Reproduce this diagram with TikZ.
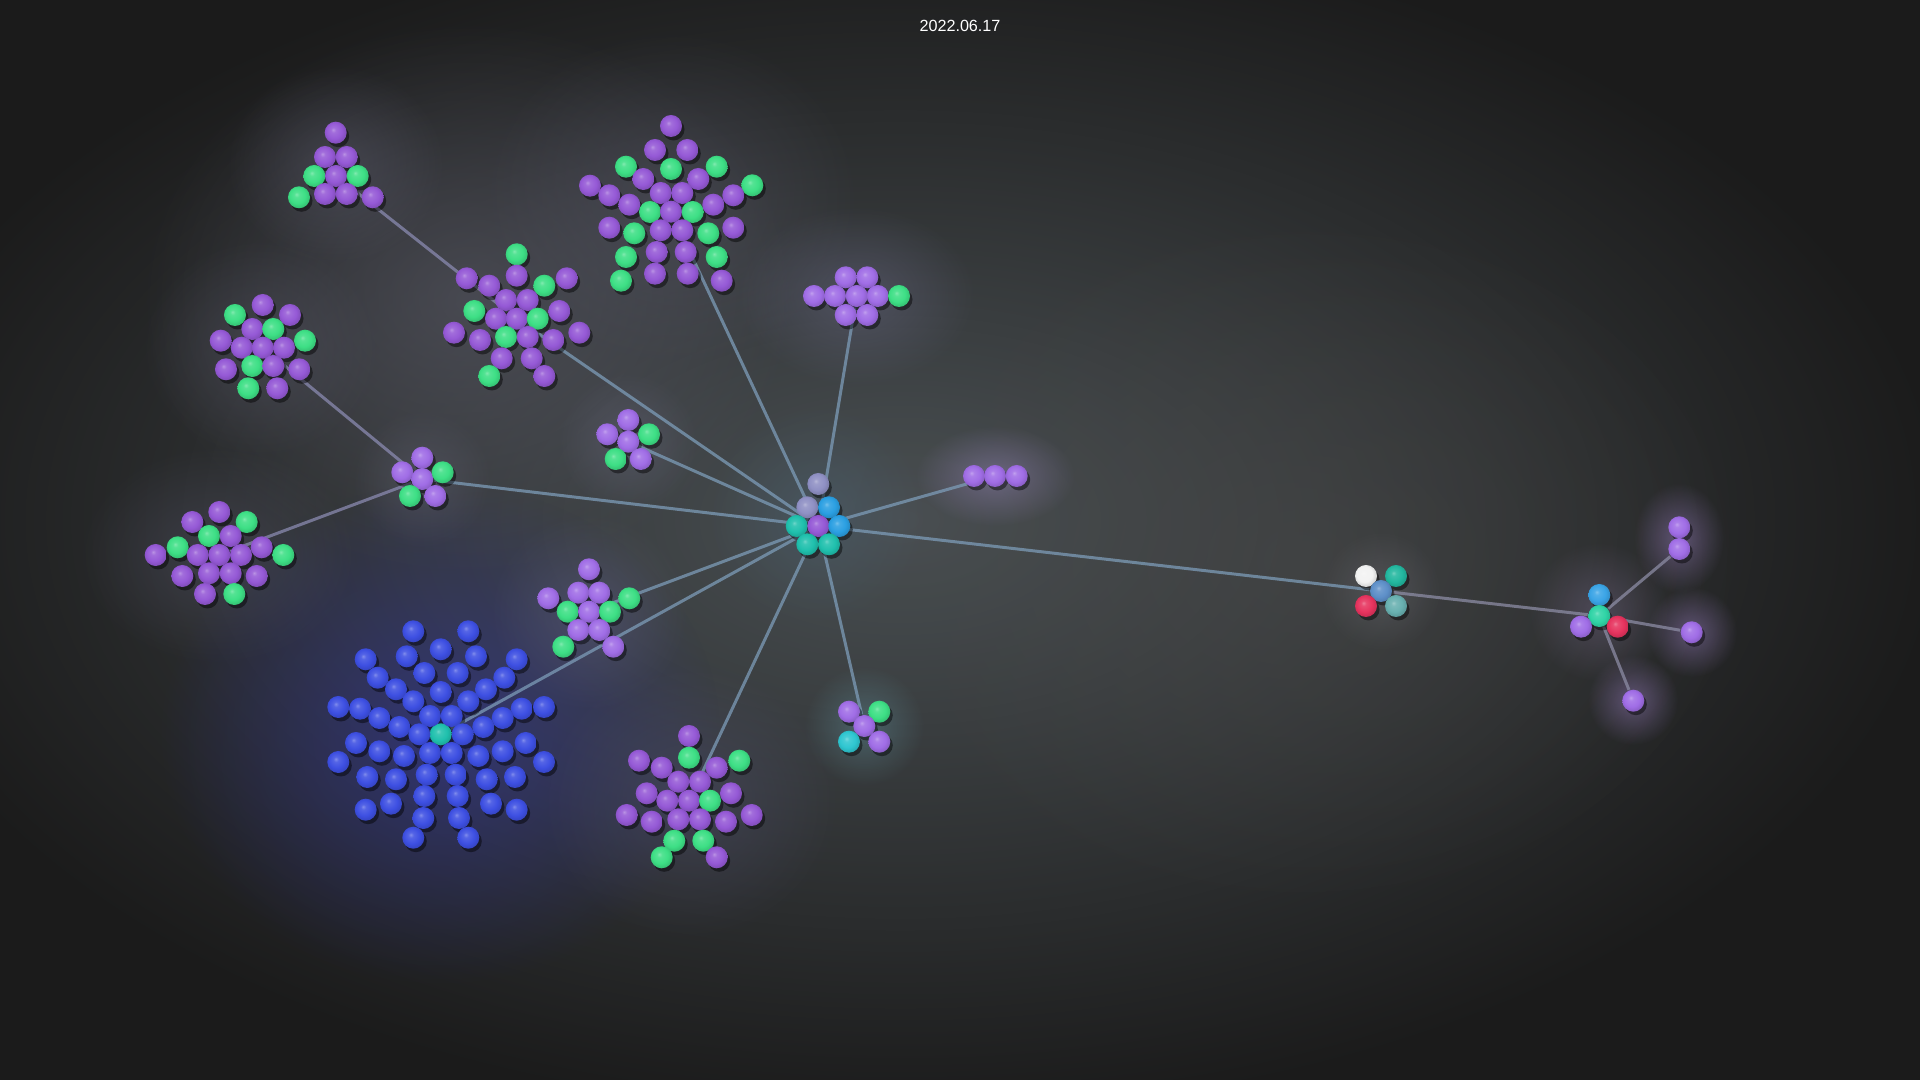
\documentclass[tikz,border=0pt]{standalone}
\usepackage{fontspec}
\setmainfont{Liberation Sans}
\usetikzlibrary{fadings}
\pgfdeclarelayer{bgl}\pgfdeclarelayer{glowl}\pgfdeclarelayer{edgel}\pgfdeclarelayer{shadowl}
\pgfsetlayers{bgl,glowl,edgel,shadowl,main}
\definecolor{cP}{HTML}{9559D6}
\definecolor{cL}{HTML}{A06DE6}
\definecolor{cG}{HTML}{3DDF85}
\definecolor{cB}{HTML}{3D4FE2}
\definecolor{cT}{HTML}{1FC0AD}
\definecolor{cH}{HTML}{2A9FE2}
\definecolor{cV}{HTML}{8F90C4}
\definecolor{cC}{HTML}{2EC6D0}
\definecolor{cW}{HTML}{F2F2F2}
\definecolor{cR}{HTML}{E6335E}
\definecolor{cS}{HTML}{5D8FC8}
\definecolor{cQ}{HTML}{68B0B0}
\definecolor{cA}{HTML}{22B79F}
\definecolor{cM}{HTML}{2FD4A6}
\definecolor{cK}{HTML}{3AA4E6}
\definecolor{bgdark}{HTML}{1B1B1B}
\definecolor{gMain}{HTML}{4A5053}
\definecolor{gRight}{HTML}{4A4A4A}
\definecolor{gLeft}{HTML}{5C5C6A}
\definecolor{gLav}{HTML}{6A6A80}
\definecolor{gLav2}{HTML}{5A5A6C}
\definecolor{gLav3}{HTML}{55556A}
\definecolor{gBlue}{HTML}{3438A8}
\definecolor{gLav4}{HTML}{55557A}
\definecolor{gLav5}{HTML}{6A6A88}
\definecolor{gLav6}{HTML}{70708A}
\definecolor{gChain}{HTML}{9A88C0}
\definecolor{gCyan}{HTML}{70B0C0}
\definecolor{gHub}{HTML}{4A6070}
\definecolor{gOut}{HTML}{B090E0}
\definecolor{gRg}{HTML}{8878A0}
\definecolor{gLg}{HTML}{808088}
\definecolor{eHub}{HTML}{7D9CB8}
\definecolor{eLeft}{HTML}{8A8AB0}
\definecolor{eRight}{HTML}{8C8CA4}
\makeatletter
\pgfdeclareradialshading[tikz@ball]{softball}{\pgfqpoint{-6bp}{7bp}}{%
 color(0bp)=(tikz@ball!65!white);
 color(6bp)=(tikz@ball!88!white);
 color(18bp)=(tikz@ball);
 color(28bp)=(tikz@ball!85!black);
 color(45bp)=(tikz@ball!65!black)}
\makeatother
\tikzfading[name=glowfade, inner color=transparent!0, outer color=transparent!100]
\tikzset{
 orb/.style={circle, inner sep=0pt, minimum size=0.22cm, ball color=#1, shading=softball},
 orbshadow/.style={fill=black, fill opacity=0.45},
 glow/.style={fill=#1, path fading=glowfade},
 link/.style={draw=#1, line width=0.85pt, draw opacity=0.75},
}
\newcommand\drawcluster[2]{%
 \foreach \x/\y/\c [count=\i] in {#2} {%
  \begin{pgfonlayer}{shadowl}\fill[orbshadow] (\x+2.5,\y+3.5) circle[radius=0.11cm];\end{pgfonlayer}
  \node[orb=c\c] (#1\i) at (\x,\y) {};}}
\begin{document}
\begin{tikzpicture}[x=0.01cm,y=-0.01cm]
\useasboundingbox (0,0) rectangle (1920,1080);
\begin{pgfonlayer}{bgl}
\fill[bgdark] (0,0) rectangle (1920,1080);
\end{pgfonlayer}
\begin{pgfonlayer}{glowl}
\fill[glow=gMain] (900,520) ellipse[x radius=10.5cm, y radius=6cm];
\fill[glow=gRight, fill opacity=0.5] (1300,560) ellipse[x radius=4.5cm, y radius=3.5cm];
\fill[glow=gLeft, fill opacity=0.55] (470,300) ellipse[x radius=3.3cm, y radius=2.8cm];
\fill[glow=gLav, fill opacity=0.35] (336,165) ellipse[x radius=1.1cm, y radius=1cm];
\fill[glow=gLav2, fill opacity=0.4] (671,200) ellipse[x radius=1.9cm, y radius=1.7cm];
\fill[glow=gLav2, fill opacity=0.4] (262,348) ellipse[x radius=1.2cm, y radius=1.1cm];
\fill[glow=gLav3, fill opacity=0.45] (219,555) ellipse[x radius=1.4cm, y radius=1.1cm];
\fill[glow=gLav, fill opacity=0.35] (422,479) circle[radius=0.7cm];
\fill[glow=gBlue, fill opacity=0.55] (440,734) ellipse[x radius=2.8cm, y radius=2.5cm];
\fill[glow=gLav4, fill opacity=0.4] (689,800) ellipse[x radius=1.5cm, y radius=1.4cm];
\fill[glow=gLav5, fill opacity=0.35] (589,612) circle[radius=1cm];
\fill[glow=gLav6, fill opacity=0.35] (628,442) circle[radius=0.7cm];
\fill[glow=gLav5, fill opacity=0.45] (856,296) ellipse[x radius=1.2cm, y radius=0.9cm];
\fill[glow=gChain, fill opacity=0.45] (995,476) ellipse[x radius=0.8cm, y radius=0.5cm];
\fill[glow=gCyan, fill opacity=0.32] (864,726) circle[radius=0.6cm];
\fill[glow=gHub, fill opacity=0.5] (818,515) circle[radius=1.1cm];
\fill[glow=gOut, fill opacity=0.4] (1679,538) ellipse[x radius=0.45cm, y radius=0.55cm];
\fill[glow=gOut, fill opacity=0.4] (1692,632) circle[radius=0.45cm];
\fill[glow=gOut, fill opacity=0.4] (1633,700) circle[radius=0.45cm];
\fill[glow=gRg, fill opacity=0.35] (1599,612) circle[radius=0.7cm];
\fill[glow=gLg, fill opacity=0.3] (1381,591) circle[radius=0.6cm];
\end{pgfonlayer}

\node[text=white, font=\fontsize{4.6}{5}\selectfont] (title) at (960,26) {2022.06.17};

% triangle cluster
\drawcluster{tri}{335.7/132.7/P, 325/157/P, 346.7/157/P, 314.3/176/G, 336/176/P, 357.7/176/G, 299/197.3/G, 325/194/P, 346.7/194/P, 372.7/197.3/P}
% top center cluster
\drawcluster{top}{671/126/P, 655/150/P, 687.3/150/P, 626/166.7/G, 671/169/G, 716.7/166.7/G, 590/185.7/P, 643.3/179/P, 698.3/179/P, 752.3/185.3/G, 609.3/195.3/P, 660.7/193/P, 682.3/193/P, 733.3/195.3/P, 629.3/204.7/P, 650/212/G, 671/211.7/P, 692.7/212/G, 713.3/204.7/P, 609.3/227.7/P, 634.3/233.3/G, 660.7/230.3/P, 682.3/230.3/P, 708.3/233.3/G, 733.3/227.7/P, 626/257/G, 656.7/252/P, 685.7/252/P, 716.7/257/G, 621/280.7/G, 655/273.7/P, 687.7/273.7/P, 721.7/280.7/P}
% cluster 3
\drawcluster{cc}{516.7/254.3/G, 466.7/278.3/P, 516.7/275.7/P, 566.7/278.3/P, 489.3/285.7/P, 544.3/285.7/G, 506/300/P, 527.7/300/P, 474.3/311/G, 559.3/311/P, 496/318.7/P, 516.7/318.7/P, 537.7/318.7/G, 454/332.7/P, 579.3/332.7/P, 480/340/P, 506/337/G, 527.7/337/P, 553.3/340/P, 501.7/358.3/P, 531.7/358.3/P, 489.3/376/G, 544.3/376/P}
% cluster 4
\drawcluster{cd}{262.7/305/P, 235/315/G, 290/315/P, 252.3/329/P, 273.3/329/G, 220.7/340.7/P, 305/340.7/G, 241.7/347.7/P, 262.7/347.7/P, 284/347.7/P, 226/369.3/P, 252.3/366/G, 273.3/366/P, 299.3/369.3/P, 248.3/388.3/G, 277.3/388.3/P}
% cluster 5
\drawcluster{ce}{422.3/457.7/L, 402.3/472.3/L, 422.3/479/L, 442.7/472.3/G, 410/496/G, 435.3/496/L}
% cluster 6
\drawcluster{cf}{219.3/512/P, 192.3/522/P, 246.7/522/G, 209/536/G, 230.7/536/P, 177.7/547.3/G, 261.7/547.3/P, 155.7/555/P, 197.7/555/P, 219.3/555/P, 241/555/P, 283.3/555/G, 182.3/576/P, 209/573.3/P, 230.7/573.3/P, 256.7/576/P, 205/594/P, 234.3/594/G}
% cluster 7
\drawcluster{cg}{628.3/420/L, 607.3/434.3/L, 628.3/441.7/L, 649/434.3/G, 615.7/459/G, 640.7/459/L}
% hub
\drawcluster{hub}{818.3/484/V, 807.3/507.3/V, 829/507.3/H, 796.7/526/T, 818.3/526/P, 839.3/526/H, 807.3/544.3/T, 829/544.3/T}
% cluster 8
\drawcluster{ch}{845.7/277.3/L, 867.3/277.3/L, 814/296/L, 835/296/L, 856.7/296/L, 877.7/296/L, 899/296/G, 845.7/315/L, 867.3/315/L}
% chain
\drawcluster{chain}{974/476/L, 995/476/L, 1016.7/476/L}
% cluster 11
\drawcluster{ci}{589/569.3/L, 548.3/598.3/L, 578.3/592.7/L, 599.3/592.7/L, 629.3/598.3/G, 567.7/611.7/G, 589/611.7/L, 610/611.7/G, 578.3/630/L, 599.3/630/L, 563.3/646.7/G, 613.3/646.7/L}
% blue cluster
\drawcluster{blue}{440.7/734.3/T, 413.3/631.3/B, 468.3/631.3/B, 440.7/649.3/B, 365.7/659.3/B, 406.7/656.3/B, 476/656.3/B, 516.7/659.3/B, 377.7/677.7/B, 424.3/673/B, 457.7/673/B, 504.3/677.7/B, 396/689.3/B, 440.7/692/B, 486/689.3/B, 413.3/701.3/B, 468.3/701.3/B, 338.3/707/B, 360/708.7/B, 521.7/708.7/B, 544/707/B, 379.3/718/B, 430/716/B, 451.7/716/B, 502.7/718/B, 399.3/727/B, 419.3/734.3/B, 462.7/734.3/B, 483.3/727/B, 356/743/B, 525.7/743/B, 379.3/751.3/B, 430/753/B, 451.7/753/B, 502.7/751.3/B, 404/756/B, 478.3/756/B, 338.3/762/B, 544/762/B, 426.7/774.7/B, 455.7/774.7/B, 367.3/777/B, 396/779.3/B, 486.7/779.3/B, 515/777/B, 424.3/796/B, 457.7/796/B, 365.7/809.7/B, 391/803.7/B, 491/803.7/B, 516.7/809.7/B, 423.3/818/B, 459/818/B, 413.3/837.7/B, 468.3/837.7/B}
% cluster 13
\drawcluster{cm}{689/736/P, 689/757.7/G, 639/760.7/P, 661.7/767.7/P, 716.7/767.7/P, 739.3/760.7/G, 678.3/781.7/P, 700/781.7/P, 646.7/793.3/P, 667.3/800.7/P, 689/800.7/P, 710/800.7/G, 731/793.3/P, 626.7/815/P, 651.7/821.7/P, 678.3/819.3/P, 700/819.3/P, 726/821.7/P, 751.7/815/P, 674.3/840.7/G, 703.3/840.7/G, 661.7/857.3/G, 716.7/857.3/P}
% cluster 14
\drawcluster{cn}{849/711.7/L, 879.3/711.7/G, 864.3/726/L, 849/741.7/C, 879.3/741.7/L}
% left group
\drawcluster{lg}{1366/576/W, 1396/576/A, 1381/591/S, 1366/606/R, 1396/606/Q}
% right group
\drawcluster{rg}{1599.3/595/K, 1599.3/616/M, 1581/626.7/L, 1617.7/626.7/R}
% outliers
\drawcluster{out}{1679.3/527.3/L, 1679.3/549/L, 1691.7/632.3/L, 1633.3/700.7/L}

\begin{pgfonlayer}{edgel}
\draw[link=eHub] (hub5) -- (cc12);
\draw[link=eHub] (hub5) -- (top17);
\draw[link=eHub] (hub5) -- (ch5);
\draw[link=eHub] (hub5) -- (cg3);
\draw[link=eHub] (hub5) -- (ce3);
\draw[link=eHub] (hub5) -- (chain2);
\draw[link=eHub] (hub5) -- (lg3);
\draw[link=eHub] (hub5) -- (ci7);
\draw[link=eHub] (hub5) -- (blue1);
\draw[link=eHub] (hub5) -- (cm11);
\draw[link=eHub] (hub5) -- (cn3);
\draw[link=eLeft] (tri5) -- (cc12);
\draw[link=eLeft] (cd9) -- (ce3);
\draw[link=eLeft] (cf10) -- (ce3);
\draw[link=eRight] (lg3) -- (rg2);
\draw[link=eRight] (rg2) -- (out2);
\draw[link=eRight] (rg2) -- (out3);
\draw[link=eRight] (rg2) -- (out4);
\end{pgfonlayer}
\end{tikzpicture}
\end{document}
